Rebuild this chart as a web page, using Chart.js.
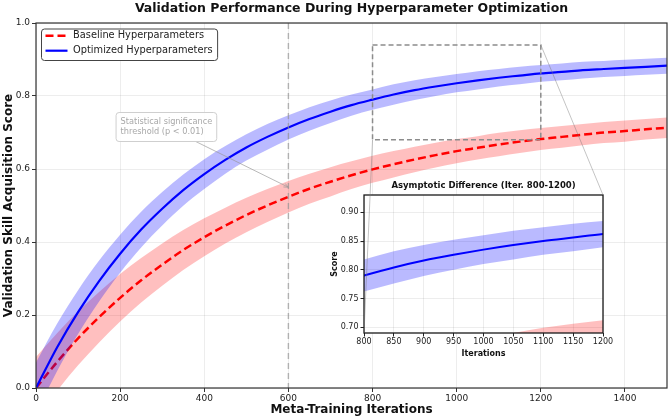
<!DOCTYPE html>
<html><head><meta charset="utf-8">
<script src="https://cdn.jsdelivr.net/npm/chart.js@4.4.0/dist/chart.umd.min.js"></script>
<style>
html,body{margin:0;padding:0;background:#fff;}
#wrap{position:relative;width:669px;height:419px;overflow:hidden;}
canvas{position:absolute;left:0;top:0;}
</style></head><body>
<div id="wrap"><canvas id="main" width="669" height="419"></canvas><canvas id="inset" width="669" height="419"></canvas></div>
<script>
// ---------- data ----------
const iterations = [0,50,100,150,200,250,300,350,400,450,500,550,600,650,700,750,800,850,900,950,1000,1050,1100,1150,1200,1250,1300,1350,1400,1450,1500];
const optimizedMean = [0.000,0.111,0.208,0.293,0.368,0.434,0.491,0.542,0.586,0.625,0.659,0.688,0.714,0.737,0.757,0.775,0.790,0.804,0.816,0.826,0.835,0.843,0.850,0.856,0.862,0.866,0.871,0.874,0.877,0.880,0.883];
const optimizedStd = [0.070,0.065,0.060,0.056,0.052,0.049,0.046,0.043,0.041,0.038,0.036,0.035,0.033,0.032,0.031,0.029,0.028,0.028,0.027,0.026,0.025,0.025,0.024,0.024,0.023,0.023,0.023,0.022,0.022,0.022,0.022];
const baselineMean = [0.000,0.071,0.136,0.194,0.247,0.295,0.338,0.378,0.413,0.445,0.474,0.500,0.524,0.546,0.565,0.583,0.599,0.613,0.626,0.638,0.649,0.658,0.667,0.675,0.682,0.688,0.694,0.700,0.704,0.709,0.713];
const baselineStd = [0.085,0.079,0.074,0.069,0.065,0.061,0.058,0.055,0.052,0.049,0.047,0.045,0.043,0.041,0.040,0.038,0.037,0.036,0.035,0.034,0.033,0.032,0.032,0.031,0.030,0.030,0.029,0.029,0.029,0.028,0.028];
const mainXTicks = [0,200,400,600,800,1000,1200,1400];
const mainYTicks = [0.0,0.2,0.4,0.6,0.8,1.0];
const insetXTicks = [800,850,900,950,1000,1050,1100,1150,1200];
const insetYTicks = [0.70,0.75,0.80,0.85,0.90];
const thresholdIteration = 600;
const zoomBox = [800,1200,0.68,0.94];     // x0,x1,y0,y1
const insetRange = [800,1200,0.69,0.93];
const annotationText = ['Statistical significance','threshold (p < 0.01)'];
const annotationPoint = [600,0.55];
const annotationTextPos = [310,0.715];
const seriesLabels = ['Baseline Hyperparameters','Optimized Hyperparameters'];

const FONT = "'DejaVu Sans', sans-serif";
const pts = (xs, ys) => xs.map((x,i)=>({x:x, y:ys[i]}));
const optUpper = optimizedMean.map((m,i)=>m+optimizedStd[i]);
const optLower = optimizedMean.map((m,i)=>m-optimizedStd[i]);
const baseUpper = baselineMean.map((m,i)=>m+baselineStd[i]);
const baseLower = baselineMean.map((m,i)=>m-baselineStd[i]);
const BLUE='#0000ff', RED='#ff0000';
const BLUE_FILL='rgba(0,0,255,0.27)', RED_FILL='rgba(255,0,0,0.25)';

function makeDatasets(lw){
  const common = {pointRadius:0, cubicInterpolationMode:'monotone'};
  return [
    Object.assign({label:seriesLabels[1], data:pts(iterations,optimizedMean), borderColor:BLUE, borderWidth:lw, fill:false}, common),
    Object.assign({label:'optUpper', data:pts(iterations,optUpper), borderWidth:0, borderColor:'rgba(0,0,0,0)', fill:false}, common),
    Object.assign({label:'optLower', data:pts(iterations,optLower), borderWidth:0, borderColor:'rgba(0,0,0,0)', fill:1, backgroundColor:BLUE_FILL}, common),
    Object.assign({label:seriesLabels[0], data:pts(iterations,baselineMean), borderColor:RED, borderWidth:lw+0.3, borderDash:[8,4], fill:false}, common),
    Object.assign({label:'baseUpper', data:pts(iterations,baseUpper), borderWidth:0, borderColor:'rgba(0,0,0,0)', fill:false}, common),
    Object.assign({label:'baseLower', data:pts(iterations,baseLower), borderWidth:0, borderColor:'rgba(0,0,0,0)', fill:4, backgroundColor:RED_FILL}, common)
  ];
}
const keepTicks = list => s => { s.ticks = list.map(v=>({value:v})); };

// ---------- main chart ----------
const mainDecor = {
  id:'mainDecor',
  afterDatasetsDraw(chart){
    const {ctx, chartArea:a, scales:{x,y}} = chart;
    ctx.save();
    ctx.beginPath(); ctx.rect(a.left,a.top,a.right-a.left,a.bottom-a.top); ctx.clip();
    // threshold line
    const tx = x.getPixelForValue(thresholdIteration);
    ctx.strokeStyle='rgba(150,150,150,0.7)'; ctx.lineWidth=1.4; ctx.setLineDash([6,4]);
    ctx.beginPath(); ctx.moveTo(tx,a.top); ctx.lineTo(tx,a.bottom); ctx.stroke();
    // zoom rectangle
    ctx.strokeStyle='#8c8c8c'; ctx.lineWidth=1.5; ctx.setLineDash([5,3]);
    const rx0=x.getPixelForValue(zoomBox[0]), rx1=x.getPixelForValue(zoomBox[1]);
    const ry0=y.getPixelForValue(zoomBox[3]), ry1=y.getPixelForValue(zoomBox[2]);
    ctx.strokeRect(rx0,ry0,rx1-rx0,ry1-ry0);
    ctx.setLineDash([]);
    // annotation
    ctx.font = "8.2px "+FONT;
    const w = Math.max(...annotationText.map(t=>ctx.measureText(t).width));
    const lh = 10, pad=4.5;
    const cx = x.getPixelForValue(annotationTextPos[0]), cy = y.getPixelForValue(annotationTextPos[1]);
    const bw = w+2*pad, bh = lh*annotationText.length+2*pad;
    const bx = cx-bw/2, by = cy-bh/2;
    const px = x.getPixelForValue(annotationPoint[0]), py = y.getPixelForValue(annotationPoint[1]);
    const dx=px-cx, dy=py-cy;
    const t = Math.min((bw/2)/Math.abs(dx||1e-9),(bh/2)/Math.abs(dy||1e-9));
    const sx=cx+dx*t, sy=cy+dy*t;
    ctx.strokeStyle='rgba(150,150,150,0.75)'; ctx.lineWidth=0.9;
    ctx.beginPath(); ctx.moveTo(sx,sy); ctx.lineTo(px,py); ctx.stroke();
    const ang=Math.atan2(py-sy,px-sx), hl=5;
    ctx.beginPath();
    ctx.moveTo(px-hl*Math.cos(ang-0.4),py-hl*Math.sin(ang-0.4)); ctx.lineTo(px,py);
    ctx.lineTo(px-hl*Math.cos(ang+0.4),py-hl*Math.sin(ang+0.4)); ctx.stroke();
    ctx.fillStyle='rgba(255,255,255,0.85)'; ctx.strokeStyle='#cfcfcf'; ctx.lineWidth=1;
    ctx.beginPath(); ctx.roundRect(bx,by,bw,bh,3); ctx.fill(); ctx.stroke();
    ctx.fillStyle='#a8a8a8'; ctx.textBaseline='middle'; ctx.textAlign='left';
    annotationText.forEach((tl,i)=>ctx.fillText(tl,bx+pad,by+pad+lh*(i+0.5)));
    ctx.restore();
  },
  afterDraw(chart){
    const {ctx, chartArea:a} = chart;
    ctx.save();
    ctx.strokeStyle='#333'; ctx.lineWidth=1.2;
    ctx.strokeRect(a.left,a.top,a.right-a.left,a.bottom-a.top);
    ctx.font="9.8px "+FONT;
    const rows=[{label:seriesLabels[0],color:RED,dash:[8,4],lw:2.5},{label:seriesLabels[1],color:BLUE,dash:[],lw:2.2}];
    const tw=Math.max(...rows.map(r=>ctx.measureText(r.label).width));
    const lx=a.left+5.5, ly=a.top+6, lw=4+22+5.6+tw+5, lhgt=31.5;
    ctx.fillStyle='rgba(255,255,255,0.9)'; ctx.strokeStyle='#444'; ctx.lineWidth=1;
    ctx.beginPath(); ctx.roundRect(lx,ly,lw,lhgt,3); ctx.fill(); ctx.stroke();
    rows.forEach((r,i)=>{
      const yy=ly+6.7+15*i;
      ctx.strokeStyle=r.color; ctx.lineWidth=r.lw; ctx.setLineDash(r.dash);
      ctx.beginPath(); ctx.moveTo(lx+4,yy); ctx.lineTo(lx+26,yy); ctx.stroke();
      ctx.setLineDash([]);
      ctx.fillStyle='#222'; ctx.textBaseline='middle'; ctx.textAlign='left';
      ctx.fillText(r.label,lx+31.6,yy);
    });
    ctx.restore();
  }
};

const mainChart = new Chart(document.getElementById('main'), {
  type:'line',
  data:{datasets:makeDatasets(2.2)},
  options:{
    responsive:false, animation:false, devicePixelRatio:1, events:[],
    layout:{padding:{left:0,right:2,top:0,bottom:0}},
    plugins:{
      legend:{display:false}, tooltip:{enabled:false},
      title:{display:true, fullSize:false, text:'Validation Performance During Hyperparameter Optimization',
        font:{family:FONT,size:12.5,weight:'bold'}, color:'#111', padding:{top:1,bottom:7}}
    },
    scales:{
      x:{type:'linear', min:0, max:1500, afterBuildTicks:keepTicks(mainXTicks), afterFit:s=>{s.height=31;},
        ticks:{font:{family:FONT,size:9}, color:'#222', padding:1, maxRotation:0, autoSkip:false, callback:v=>String(v)},
        grid:{color:'rgba(0,0,0,0.07)', tickColor:'#333', tickLength:4},
        border:{display:false},
        title:{display:true, text:'Meta-Training Iterations', font:{family:FONT,size:12,weight:'bold'}, color:'#111', padding:{top:0,bottom:1.5}}},
      y:{type:'linear', min:0, max:1, afterBuildTicks:keepTicks(mainYTicks), afterFit:s=>{s.width=36;},
        ticks:{font:{family:FONT,size:9}, color:'#222', padding:2, callback:v=>Number(v).toFixed(1)},
        grid:{color:'rgba(0,0,0,0.07)', tickColor:'#333', tickLength:4},
        border:{display:false},
        title:{display:true, text:'Validation Skill Acquisition Score', font:{family:FONT,size:12,weight:'bold'}, color:'#111', padding:{top:1.5,bottom:0}}}
    }
  },
  plugins:[mainDecor]
});

// ---------- inset chart ----------
const insetDecor = {
  id:'insetDecor',
  beforeDraw(chart){
    const {ctx, chartArea:a} = chart;
    ctx.save(); ctx.fillStyle='#fff'; ctx.fillRect(a.left,a.top,a.right-a.left,a.bottom-a.top); ctx.restore();
  },
  afterDraw(chart){
    const {ctx, chartArea:a} = chart;
    const mx=mainChart.scales.x, my=mainChart.scales.y;
    ctx.save();
    ctx.strokeStyle='#1a1a1a'; ctx.lineWidth=1.3;
    ctx.strokeRect(a.left,a.top,a.right-a.left,a.bottom-a.top);
    ctx.strokeStyle='rgba(120,120,120,0.55)'; ctx.lineWidth=0.8;
    ctx.beginPath();
    ctx.moveTo(mx.getPixelForValue(zoomBox[1]), my.getPixelForValue(zoomBox[3])); ctx.lineTo(a.right,a.top);
    ctx.moveTo(mx.getPixelForValue(zoomBox[0]), my.getPixelForValue(zoomBox[2])); ctx.lineTo(a.left,a.bottom);
    ctx.stroke();
    ctx.restore();
  }
};

new Chart(document.getElementById('inset'), {
  type:'line',
  data:{datasets:makeDatasets(2)},
  options:{
    responsive:false, animation:false, devicePixelRatio:1, events:[],
    layout:{padding:{left:330,right:66,top:181,bottom:59}},
    plugins:{
      legend:{display:false}, tooltip:{enabled:false},
      title:{display:true, fullSize:false, text:'Asymptotic Difference (Iter. 800-1200)',
        font:{family:FONT,size:8.5,weight:'bold'}, color:'#111', padding:{top:0,bottom:3.8}}
    },
    scales:{
      x:{type:'linear', min:insetRange[0], max:insetRange[1], afterBuildTicks:keepTicks(insetXTicks), afterFit:s=>{s.height=27;},
        ticks:{font:{family:FONT,size:8}, color:'#222', padding:1, maxRotation:0, autoSkip:false, callback:v=>String(v)},
        grid:{color:'rgba(0,0,0,0.07)', tickColor:'#222', tickLength:3.5},
        border:{display:false},
        title:{display:true, text:'Iterations', font:{family:FONT,size:8,weight:'bold'}, color:'#111', padding:{top:0,bottom:1}}},
      y:{type:'linear', min:insetRange[2], max:insetRange[3], afterBuildTicks:keepTicks(insetYTicks), afterFit:s=>{s.width=34;},
        ticks:{font:{family:FONT,size:8}, color:'#222', padding:2, callback:v=>Number(v).toFixed(2)},
        grid:{color:'rgba(0,0,0,0.07)', tickColor:'#222', tickLength:3.5},
        border:{display:false},
        title:{display:true, text:'Score', font:{family:FONT,size:8,weight:'bold'}, color:'#111', padding:{top:0,bottom:0}}}
    }
  },
  plugins:[insetDecor]
});
</script>
</body></html>
